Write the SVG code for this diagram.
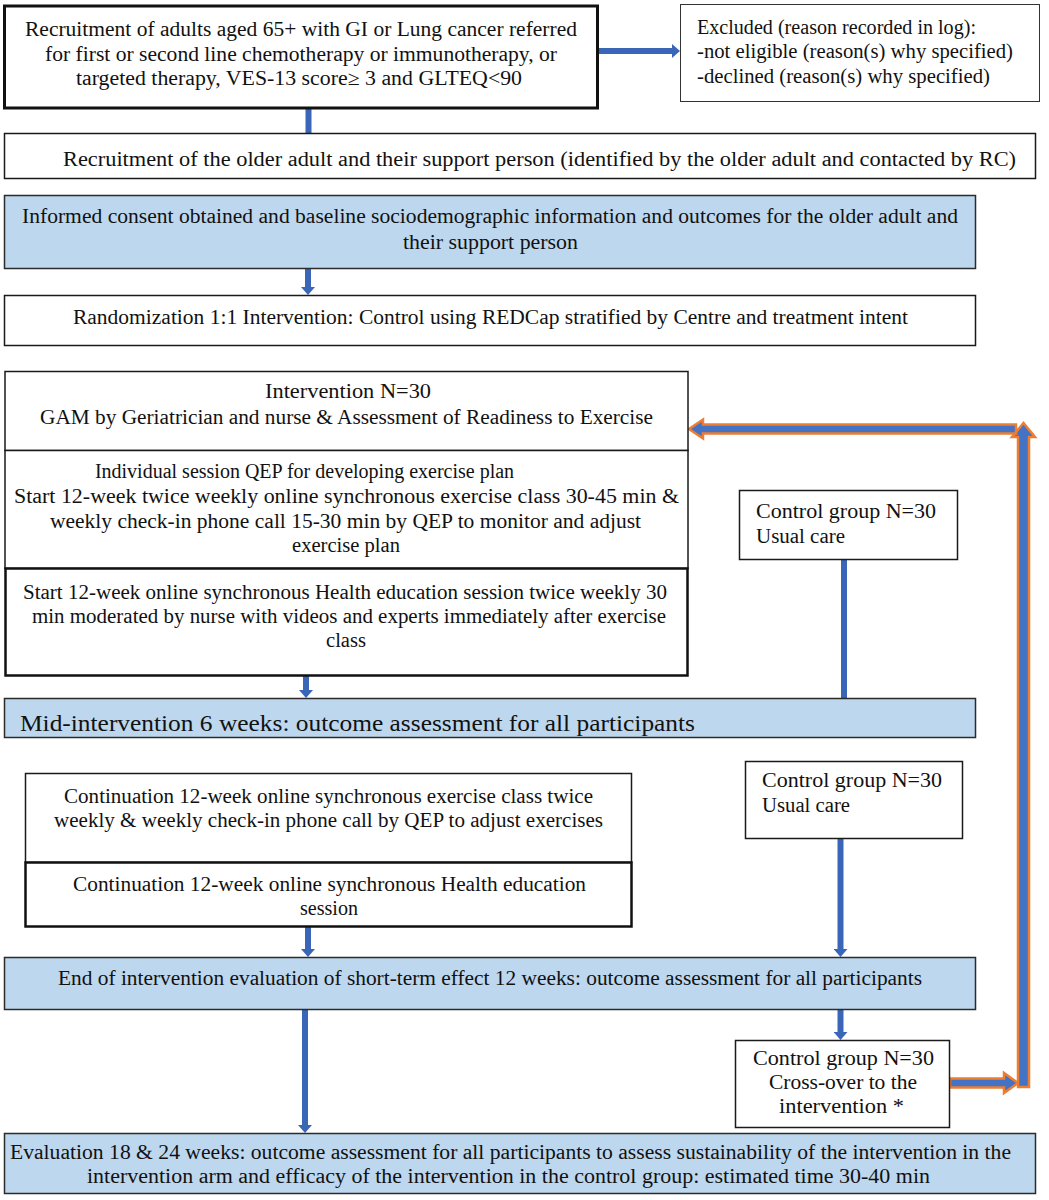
<svg xmlns="http://www.w3.org/2000/svg" width="1049" height="1200" viewBox="0 0 1049 1200">
<style>
text{font-family:"Liberation Serif","Times New Roman",serif;font-size:20px;fill:#111}
.c{text-anchor:middle}
.b{fill:#fff;stroke:#1a1a1a;stroke-width:1.5}
.bt{fill:#fff;stroke:#111;stroke-width:3}
.bm{fill:#fff;stroke:#111;stroke-width:2.5}
.bl{fill:#bdd7ee;stroke:#2b2b2b;stroke-width:1.5}
.thin{fill:#fff;stroke:#333;stroke-width:1}
.con{stroke:#3a66b8;stroke-width:6;fill:none}
.oa{fill:#4472c4;stroke:#ed7d31;stroke-width:2.5;stroke-linejoin:miter}
</style>
<defs>
<marker id="ah" viewBox="0 0 8 14" refX="0" refY="7" markerWidth="8" markerHeight="14" markerUnits="userSpaceOnUse" orient="auto">
<path d="M0,0 L8,7 L0,14 z" fill="#3a66b8"/>
</marker>
<clipPath id="midclip"><rect x="4" y="698" width="972" height="39"/></clipPath>
</defs>
<rect width="1049" height="1200" fill="#fff"/>

<g id="connectors">
<path class="con" d="M598,51 L672,51" marker-end="url(#ah)"/>
<path class="con" d="M308.5,108 L308.5,133"/>
<path class="con" d="M308,269 L308,287" marker-end="url(#ah)"/>
<path class="con" d="M306,675 L306,690" marker-end="url(#ah)"/>
<path class="con" d="M844,559 L844,698"/>
<path class="con" d="M308,927 L308,949" marker-end="url(#ah)"/>
<path class="con" d="M840.5,838 L840.5,949" marker-end="url(#ah)"/>
<path class="con" d="M840.5,1009 L840.5,1032" marker-end="url(#ah)"/>
<path class="con" d="M305,1009 L305,1125" marker-end="url(#ah)"/>
<polygon class="oa" points="950,1078.5 1004,1078.5 1004,1073 1018,1083 1004,1093 1004,1087.5 950,1087.5"/>
<polygon class="oa" points="1018,1087 1018,437 1012,437 1023.5,423 1035,437 1029,437 1029,1087"/>
<polygon class="oa" points="1016,424.5 703,424.5 703,419.5 689,429 703,438.5 703,433.5 1016,433.5"/>
</g>

<g id="recruitment">
<rect class="bt" x="4.5" y="6" width="593" height="102"/>
<text class="c" x="301" y="36" textLength="552" lengthAdjust="spacingAndGlyphs">Recruitment of adults aged 65+ with GI or Lung cancer referred</text>
<text class="c" x="301" y="60.5" textLength="512" lengthAdjust="spacingAndGlyphs">for first or second line chemotherapy or immunotherapy, or</text>
<text class="c" x="299" y="85" textLength="446" lengthAdjust="spacingAndGlyphs">targeted therapy, VES-13 score≥ 3 and GLTEQ&lt;90</text>
</g>

<g id="excluded">
<rect class="thin" x="680.5" y="4.5" width="359" height="97"/>
<text x="697" y="34" textLength="279" lengthAdjust="spacingAndGlyphs">Excluded (reason recorded in log):</text>
<text x="697" y="58" textLength="316" lengthAdjust="spacingAndGlyphs">-not eligible (reason(s) why specified)</text>
<text x="697" y="83" textLength="293" lengthAdjust="spacingAndGlyphs">-declined (reason(s) why specified)</text>
</g>

<g id="support">
<rect class="b" x="4.5" y="133.5" width="1031" height="45"/>
<text class="c" x="539.5" y="166" textLength="953" lengthAdjust="spacingAndGlyphs">Recruitment of the older adult and their support person (identified by the older adult and contacted by RC)</text>
</g>

<g id="consent">
<rect class="bl" x="4.5" y="195.5" width="971" height="73"/>
<text class="c" x="490" y="223" textLength="936" lengthAdjust="spacingAndGlyphs">Informed consent obtained and baseline sociodemographic information and outcomes for the older adult and</text>
<text class="c" x="490.5" y="249" textLength="175" lengthAdjust="spacingAndGlyphs">their support person</text>
</g>

<g id="randomization">
<rect class="b" x="4.5" y="295.5" width="971" height="50"/>
<text class="c" x="490.5" y="324" textLength="835" lengthAdjust="spacingAndGlyphs">Randomization 1:1 Intervention: Control using REDCap stratified by Centre and treatment intent</text>
</g>

<g id="intervention-gam">
<rect class="b" x="5" y="371.5" width="683" height="79"/>
<text class="c" x="348" y="398" textLength="166" lengthAdjust="spacingAndGlyphs">Intervention N=30</text>
<text class="c" x="346.5" y="424" textLength="613" lengthAdjust="spacingAndGlyphs">GAM by Geriatrician and nurse &amp; Assessment of Readiness to Exercise</text>
</g>

<g id="intervention-exercise">
<rect class="b" x="5" y="450.5" width="683" height="118"/>
<text class="c" x="304.5" y="478">Individual session QEP for developing exercise plan</text>
<text class="c" x="346.5" y="503" textLength="665" lengthAdjust="spacingAndGlyphs">Start 12-week twice weekly online synchronous exercise class 30-45 min &amp;</text>
<text class="c" x="345.5" y="528" textLength="591" lengthAdjust="spacingAndGlyphs">weekly check-in phone call 15-30 min by QEP to monitor and adjust</text>
<text class="c" x="346" y="552" textLength="108" lengthAdjust="spacingAndGlyphs">exercise plan</text>
</g>

<g id="intervention-education">
<rect class="bm" x="5.5" y="568.5" width="682" height="107"/>
<text class="c" x="345" y="599" textLength="644" lengthAdjust="spacingAndGlyphs">Start 12-week online synchronous Health education session twice weekly 30</text>
<text class="c" x="349" y="623" textLength="634" lengthAdjust="spacingAndGlyphs">min moderated by nurse with videos and experts immediately after exercise</text>
<text class="c" x="346" y="647" textLength="40" lengthAdjust="spacingAndGlyphs">class</text>
</g>

<g id="control-1">
<rect class="b" x="739.5" y="490.5" width="218" height="69"/>
<text x="756" y="518" textLength="180" lengthAdjust="spacingAndGlyphs">Control group N=30</text>
<text x="756" y="543" textLength="89" lengthAdjust="spacingAndGlyphs">Usual care</text>
</g>

<g id="mid-intervention">
<rect class="bl" x="4.5" y="698.5" width="971" height="39"/>
<text x="20" y="731" clip-path="url(#midclip)" style="font-size:24px" textLength="675" lengthAdjust="spacingAndGlyphs">Mid-intervention 6 weeks: outcome assessment for all participants</text>
</g>

<g id="continuation-exercise">
<rect class="b" x="25.5" y="773.5" width="606" height="89"/>
<text class="c" x="328.5" y="803" textLength="529" lengthAdjust="spacingAndGlyphs">Continuation 12-week online synchronous exercise class twice</text>
<text class="c" x="328.5" y="827" textLength="549" lengthAdjust="spacingAndGlyphs">weekly &amp; weekly check-in phone call by QEP to adjust exercises</text>
</g>

<g id="continuation-education">
<rect class="bm" x="25.5" y="862.5" width="606" height="64"/>
<text class="c" x="329.5" y="891" textLength="513" lengthAdjust="spacingAndGlyphs">Continuation 12-week online synchronous Health education</text>
<text class="c" x="329" y="915" textLength="58" lengthAdjust="spacingAndGlyphs">session</text>
</g>

<g id="control-2">
<rect class="b" x="745.5" y="761.5" width="217" height="77"/>
<text x="762" y="787" textLength="180" lengthAdjust="spacingAndGlyphs">Control group N=30</text>
<text x="762" y="812" textLength="88" lengthAdjust="spacingAndGlyphs">Usual care</text>
</g>

<g id="end-of-intervention">
<rect class="bl" x="4.5" y="957.5" width="971" height="52"/>
<text class="c" x="490" y="985" textLength="864" lengthAdjust="spacingAndGlyphs">End of intervention evaluation of short-term effect 12 weeks: outcome assessment for all participants</text>
</g>

<g id="control-3">
<rect class="b" x="735.5" y="1040.5" width="214" height="87"/>
<text class="c" x="843.5" y="1065" textLength="181" lengthAdjust="spacingAndGlyphs">Control group N=30</text>
<text class="c" x="843" y="1089" textLength="148" lengthAdjust="spacingAndGlyphs">Cross-over to the</text>
<text class="c" x="841.5" y="1113" textLength="125" lengthAdjust="spacingAndGlyphs">intervention *</text>
</g>

<g id="evaluation">
<rect class="bl" x="4.5" y="1133.5" width="1031" height="60"/>
<text class="c" x="510.5" y="1159" textLength="1001" lengthAdjust="spacingAndGlyphs">Evaluation 18 &amp; 24 weeks: outcome assessment for all participants to assess sustainability of the intervention in the</text>
<text class="c" x="508.5" y="1183" textLength="843" lengthAdjust="spacingAndGlyphs">intervention arm and efficacy of the intervention in the control group: estimated time 30-40 min</text>
</g>
</svg>
